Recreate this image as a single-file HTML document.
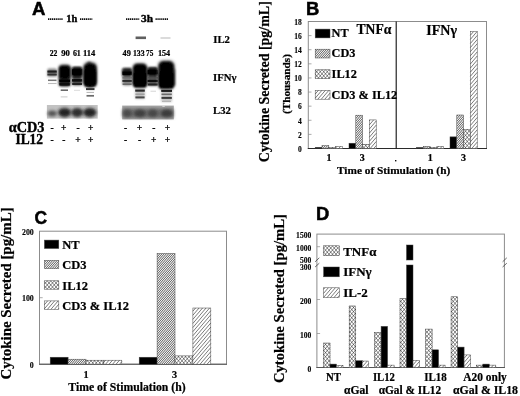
<!DOCTYPE html>
<html><head><meta charset="utf-8"><title>Figure</title>
<style>
html,body{margin:0;padding:0;background:#fff;}
body{width:520px;height:396px;overflow:hidden;font-family:"Liberation Serif",serif;}
svg{display:block;}
.f{font-family:"Liberation Serif",serif;font-weight:bold;fill:#000;stroke:#000;stroke-width:0.22;}
.t{font-family:"Liberation Serif",serif;font-weight:bold;fill:#000;stroke:#000;stroke-width:0.12;}
.g{font-family:"Liberation Sans",sans-serif;font-weight:bold;fill:#000;stroke:#000;stroke-width:0.5;}
</style></head><body>
<svg width="520" height="396" viewBox="0 0 520 396">
<defs>
<pattern id="fine" width="11" height="5" patternUnits="userSpaceOnUse" shape-rendering="crispEdges">
<rect x="0" y="0" width="1" height="1" fill="#bebebe"/><rect x="1" y="0" width="1" height="1" fill="#bebebe"/><rect x="2" y="0" width="1" height="1" fill="#979797"/><rect x="3" y="0" width="1" height="1" fill="#dfdfdf"/><rect x="4" y="0" width="1" height="1" fill="#777777"/><rect x="5" y="0" width="1" height="1" fill="#f3f3f3"/><rect x="6" y="0" width="1" height="1" fill="#6d6d6d"/><rect x="7" y="0" width="1" height="1" fill="#f3f3f3"/><rect x="8" y="0" width="1" height="1" fill="#787878"/><rect x="9" y="0" width="1" height="1" fill="#dedede"/><rect x="10" y="0" width="1" height="1" fill="#989898"/><rect x="0" y="1" width="1" height="1" fill="#d3d3d3"/><rect x="1" y="1" width="1" height="1" fill="#838383"/><rect x="2" y="1" width="1" height="1" fill="#ededed"/><rect x="3" y="1" width="1" height="1" fill="#6e6e6e"/><rect x="4" y="1" width="1" height="1" fill="#f6f6f6"/><rect x="5" y="1" width="1" height="1" fill="#717171"/><rect x="6" y="1" width="1" height="1" fill="#e8e8e8"/><rect x="7" y="1" width="1" height="1" fill="#898989"/><rect x="8" y="1" width="1" height="1" fill="#cccccc"/><rect x="9" y="1" width="1" height="1" fill="#afafaf"/><rect x="10" y="1" width="1" height="1" fill="#a7a7a7"/><rect x="0" y="2" width="1" height="1" fill="#747474"/><rect x="1" y="2" width="1" height="1" fill="#f5f5f5"/><rect x="2" y="2" width="1" height="1" fill="#6d6d6d"/><rect x="3" y="2" width="1" height="1" fill="#f0f0f0"/><rect x="4" y="2" width="1" height="1" fill="#7d7d7d"/><rect x="5" y="2" width="1" height="1" fill="#d9d9d9"/><rect x="6" y="2" width="1" height="1" fill="#9f9f9f"/><rect x="7" y="2" width="1" height="1" fill="#b6b6b6"/><rect x="8" y="2" width="1" height="1" fill="#c6c6c6"/><rect x="9" y="2" width="1" height="1" fill="#909090"/><rect x="10" y="2" width="1" height="1" fill="#e4e4e4"/><rect x="0" y="3" width="1" height="1" fill="#f5f5f5"/><rect x="1" y="3" width="1" height="1" fill="#747474"/><rect x="2" y="3" width="1" height="1" fill="#e4e4e4"/><rect x="3" y="3" width="1" height="1" fill="#919191"/><rect x="4" y="3" width="1" height="1" fill="#c5c5c5"/><rect x="5" y="3" width="1" height="1" fill="#b6b6b6"/><rect x="6" y="3" width="1" height="1" fill="#9f9f9f"/><rect x="7" y="3" width="1" height="1" fill="#d9d9d9"/><rect x="8" y="3" width="1" height="1" fill="#7d7d7d"/><rect x="9" y="3" width="1" height="1" fill="#f0f0f0"/><rect x="10" y="3" width="1" height="1" fill="#6d6d6d"/><rect x="0" y="4" width="1" height="1" fill="#838383"/><rect x="1" y="4" width="1" height="1" fill="#d2d2d2"/><rect x="2" y="4" width="1" height="1" fill="#a7a7a7"/><rect x="3" y="4" width="1" height="1" fill="#aeaeae"/><rect x="4" y="4" width="1" height="1" fill="#cdcdcd"/><rect x="5" y="4" width="1" height="1" fill="#898989"/><rect x="6" y="4" width="1" height="1" fill="#e9e9e9"/><rect x="7" y="4" width="1" height="1" fill="#717171"/><rect x="8" y="4" width="1" height="1" fill="#f6f6f6"/><rect x="9" y="4" width="1" height="1" fill="#6e6e6e"/><rect x="10" y="4" width="1" height="1" fill="#ededed"/>
</pattern>
<pattern id="cross" width="3.5" height="4.1" patternUnits="userSpaceOnUse">
<rect width="3.5" height="4.1" fill="#fff"/>
<path d="M0,0 L3.5,4.1 M3.5,0 L0,4.1" stroke="#000" stroke-width="0.5"/>
</pattern>
<pattern id="wide" width="3.5" height="4.1" patternUnits="userSpaceOnUse">
<rect width="3.5" height="4.1" fill="#fff"/>
<path d="M-1.75,2.05 L1.75,-2.05 M0,4.1 L3.5,0 M1.75,6.15 L5.25,2.05" stroke="#222" stroke-width="0.6"/>
</pattern>
<filter id="b1" x="-50%" y="-50%" width="200%" height="200%"><feGaussianBlur stdDeviation="0.9"/></filter>
<filter id="b2" x="-50%" y="-50%" width="200%" height="200%"><feGaussianBlur stdDeviation="1.4"/></filter>
<filter id="b3" x="-50%" y="-50%" width="200%" height="200%"><feGaussianBlur stdDeviation="0.7"/></filter>
<filter id="gb" x="0" y="0" width="520" height="396" filterUnits="userSpaceOnUse"><feGaussianBlur stdDeviation="0.3"/></filter>
</defs>
<rect width="520" height="396" fill="#fff"/>
<g filter="url(#gb)">
<rect width="520" height="396" fill="#fff"/>

<text class="g" x="32" y="14.7" font-size="18.4" text-anchor="start" textLength="13.4" lengthAdjust="spacingAndGlyphs" >A</text>
<text class="f" x="66.2" y="22" font-size="10.8" text-anchor="start" textLength="11" lengthAdjust="spacingAndGlyphs" style="stroke-width:0.4">1h</text>
<text class="f" x="141" y="22" font-size="10.8" text-anchor="start" textLength="12" lengthAdjust="spacingAndGlyphs" style="stroke-width:0.4">3h</text>
<line x1="48" y1="19.1" x2="62.7" y2="19.1" stroke="#111" stroke-width="1.7" stroke-dasharray="1.3,0.6"/>
<line x1="80" y1="19.1" x2="92.3" y2="19.1" stroke="#111" stroke-width="1.7" stroke-dasharray="1.3,0.6"/>
<line x1="126" y1="19.1" x2="139.5" y2="19.1" stroke="#111" stroke-width="1.7" stroke-dasharray="1.3,0.6"/>
<line x1="155.5" y1="19.1" x2="168" y2="19.1" stroke="#111" stroke-width="1.7" stroke-dasharray="1.3,0.6"/>
<text class="f" x="49.8" y="55.8" font-size="8.2" text-anchor="start" textLength="7.65" lengthAdjust="spacingAndGlyphs" >22</text>
<text class="f" x="61.3" y="55.8" font-size="8.2" text-anchor="start" textLength="8.65" lengthAdjust="spacingAndGlyphs" >90</text>
<text class="f" x="72.89999999999999" y="55.8" font-size="8.2" text-anchor="start" textLength="7.9" lengthAdjust="spacingAndGlyphs" >61</text>
<text class="f" x="82.89999999999999" y="55.8" font-size="8.2" text-anchor="start" textLength="12.3" lengthAdjust="spacingAndGlyphs" >114</text>
<text class="f" x="122.55" y="55.8" font-size="8.2" text-anchor="start" textLength="8.25" lengthAdjust="spacingAndGlyphs" >49</text>
<text class="f" x="132.9" y="55.8" font-size="8.2" text-anchor="start" textLength="11.7" lengthAdjust="spacingAndGlyphs" >133</text>
<text class="f" x="146.05" y="55.8" font-size="8.2" text-anchor="start" textLength="7.25" lengthAdjust="spacingAndGlyphs" >75</text>
<text class="f" x="157.9" y="55.8" font-size="8.2" text-anchor="start" textLength="12.3" lengthAdjust="spacingAndGlyphs" >154</text>
<text class="f" x="213.3" y="42.8" font-size="10.7" text-anchor="start" >IL2</text>
<text class="f" x="213.1" y="81" font-size="10.7" text-anchor="start" >IFN&#947;</text>
<text class="f" x="213.1" y="114" font-size="10.7" text-anchor="start" >L32</text>
<text class="f" x="8.8" y="132" font-size="14.2" text-anchor="start" textLength="35.7" lengthAdjust="spacingAndGlyphs" style="stroke-width:0.4">&#945;CD3</text>
<text class="f" x="15.5" y="143.8" font-size="13.6" text-anchor="start" textLength="27.5" lengthAdjust="spacingAndGlyphs" style="stroke-width:0.4">IL12</text>
<text class="f" x="52" y="131" font-size="9.5" text-anchor="middle" >-</text>
<text class="f" x="52" y="142.6" font-size="9.5" text-anchor="middle" >-</text>
<text class="f" x="63.8" y="131" font-size="9.5" text-anchor="middle" >+</text>
<text class="f" x="63.8" y="142.6" font-size="9.5" text-anchor="middle" >-</text>
<text class="f" x="78" y="131" font-size="9.5" text-anchor="middle" >-</text>
<text class="f" x="78" y="142.6" font-size="9.5" text-anchor="middle" >+</text>
<text class="f" x="90.8" y="131" font-size="9.5" text-anchor="middle" >+</text>
<text class="f" x="90.8" y="142.6" font-size="9.5" text-anchor="middle" >+</text>
<text class="f" x="125.5" y="131" font-size="9.5" text-anchor="middle" >-</text>
<text class="f" x="125.5" y="142.6" font-size="9.5" text-anchor="middle" >-</text>
<text class="f" x="139.5" y="131" font-size="9.5" text-anchor="middle" >+</text>
<text class="f" x="139.5" y="142.6" font-size="9.5" text-anchor="middle" >-</text>
<text class="f" x="153.8" y="131" font-size="9.5" text-anchor="middle" >-</text>
<text class="f" x="153.8" y="142.6" font-size="9.5" text-anchor="middle" >+</text>
<text class="f" x="167.5" y="131" font-size="9.5" text-anchor="middle" >+</text>
<text class="f" x="167.5" y="142.6" font-size="9.5" text-anchor="middle" >+</text>
<rect x="47.4" y="68.6" width="9.399999999999999" height="8.200000000000003" rx="1.5" fill="#666" opacity="0.8" filter="url(#b1)"/>
<rect x="47.4" y="70.5" width="9.399999999999999" height="2.2" fill="#1a1a1a" opacity="1" filter="url(#b3)"/>
<rect x="47.4" y="73.5" width="9.399999999999999" height="2.0" fill="#333" opacity="1" filter="url(#b3)"/>
<rect x="48" y="79.55" width="8.5" height="1.5" fill="#777" opacity="1" filter="url(#b3)"/>
<rect x="48" y="82.95" width="8.5" height="1.1" fill="#bbb" opacity="1" filter="url(#b3)"/>
<rect x="58.6" y="64.6" width="12.199999999999996" height="22.0" rx="4" fill="#555" opacity="0.8" filter="url(#b2)"/>
<rect x="59.2" y="77" width="10.799999999999997" height="9" rx="1.5" fill="#2a2a2a" opacity="1" filter="url(#b1)"/>
<rect x="58.9" y="65.6" width="11.699999999999996" height="13.400000000000006" rx="3.5" fill="#000" opacity="1" filter="url(#b1)"/>
<rect x="59.2" y="79.5" width="10.799999999999997" height="2.8" fill="#000" opacity="1" filter="url(#b3)"/>
<rect x="59.4" y="82.9" width="10.399999999999999" height="2.6" fill="#0a0a0a" opacity="1" filter="url(#b3)"/>
<rect x="60.7" y="89.4" width="7.299999999999997" height="1.6" fill="#6a6a6a" opacity="1" filter="url(#b3)"/>
<rect x="60.7" y="96.4" width="6.799999999999997" height="1.0" fill="#c8c8c8" opacity="1" filter="url(#b3)"/>
<rect x="72" y="67" width="10.200000000000003" height="18.400000000000006" rx="2" fill="#444" opacity="0.9" filter="url(#b1)"/>
<rect x="71.8" y="67" width="10.600000000000009" height="10.400000000000006" rx="2.5" fill="#0a0a0a" opacity="1" filter="url(#b1)"/>
<rect x="72" y="69.25" width="10.200000000000003" height="5.5" fill="#000" opacity="1" filter="url(#b3)"/>
<rect x="72" y="79.2" width="10.200000000000003" height="2.4" fill="#080808" opacity="1" filter="url(#b3)"/>
<rect x="72.2" y="82.80000000000001" width="9.799999999999997" height="2.2" fill="#222" opacity="1" filter="url(#b3)"/>
<rect x="74" y="89.85" width="6" height="0.9" fill="#d8d8d8" opacity="1" filter="url(#b3)"/>
<rect x="83.2" y="62" width="13.799999999999997" height="25.400000000000006" rx="5" fill="#555" opacity="0.8" filter="url(#b2)"/>
<ellipse cx="89.2" cy="64" rx="2" ry="2.6" fill="#444" opacity="1" filter="url(#b1)"/>
<rect x="83.8" y="63.4" width="12.600000000000009" height="23.000000000000007" rx="5" fill="#000" opacity="1" filter="url(#b1)"/>
<rect x="84.5" y="70" width="11.299999999999997" height="16.599999999999994" rx="2" fill="#000" opacity="1" filter="url(#b1)"/>
<rect x="86" y="88.1" width="8.5" height="2.0" fill="#333" opacity="1" filter="url(#b3)"/>
<rect x="86.5" y="91.9" width="7.5" height="1.0" fill="#b4b4b4" opacity="1" filter="url(#b3)"/>
<rect x="86.5" y="94.95" width="7.5" height="1.7" fill="#6a6a6a" opacity="1" filter="url(#b3)"/>
<rect x="122.4" y="68" width="9.400000000000006" height="17.400000000000006" rx="2" fill="#666" opacity="0.8" filter="url(#b1)"/>
<rect x="122.2" y="68.2" width="9.799999999999997" height="8.0" rx="2" fill="#1a1a1a" opacity="1" filter="url(#b1)"/>
<rect x="122.4" y="71.5" width="9.400000000000006" height="3.4" fill="#000" opacity="1" filter="url(#b3)"/>
<rect x="122.4" y="77.25" width="9.400000000000006" height="1.3" fill="#6a6a6a" opacity="1" filter="url(#b3)"/>
<rect x="122.4" y="79.9" width="9.400000000000006" height="2.0" fill="#2a2a2a" opacity="1" filter="url(#b3)"/>
<rect x="122.6" y="83.4" width="9.0" height="1.6" fill="#6a6a6a" opacity="1" filter="url(#b3)"/>
<rect x="132.6" y="63" width="14.800000000000011" height="25" rx="5" fill="#555" opacity="0.8" filter="url(#b2)"/>
<rect x="133.1" y="64" width="13.800000000000011" height="23" rx="4.5" fill="#000" opacity="1" filter="url(#b1)"/>
<rect x="133.6" y="72" width="12.800000000000011" height="15.200000000000003" rx="2" fill="#000" opacity="1" filter="url(#b1)"/>
<rect x="135.2" y="88" width="9.600000000000023" height="11" rx="1" fill="#aaa" opacity="0.7" filter="url(#b1)"/>
<rect x="135.2" y="89.5" width="9.600000000000023" height="2.2" fill="#2a2a2a" opacity="1" filter="url(#b3)"/>
<rect x="135.4" y="93.55" width="9.199999999999989" height="1.3" fill="#999" opacity="1" filter="url(#b3)"/>
<rect x="135.4" y="96.4" width="9.199999999999989" height="2.0" fill="#4a4a4a" opacity="1" filter="url(#b3)"/>
<rect x="147.6" y="67.4" width="10.200000000000017" height="18.599999999999994" rx="2" fill="#444" opacity="0.9" filter="url(#b1)"/>
<rect x="147.4" y="67.4" width="10.599999999999994" height="8.599999999999994" rx="2" fill="#0a0a0a" opacity="1" filter="url(#b1)"/>
<rect x="147.6" y="70.2" width="10.200000000000017" height="4" fill="#000" opacity="1" filter="url(#b3)"/>
<rect x="147.6" y="77.25" width="10.200000000000017" height="1.3" fill="#4a4a4a" opacity="1" filter="url(#b3)"/>
<rect x="147.6" y="79.80000000000001" width="10.200000000000017" height="2.2" fill="#0a0a0a" opacity="1" filter="url(#b3)"/>
<rect x="147.8" y="83.5" width="9.799999999999983" height="2.0" fill="#222" opacity="1" filter="url(#b3)"/>
<rect x="150.5" y="90.75" width="5.5" height="0.9" fill="#d0d0d0" opacity="1" filter="url(#b3)"/>
<rect x="157.8" y="60.5" width="16.799999999999983" height="28.900000000000006" rx="5" fill="#555" opacity="0.8" filter="url(#b2)"/>
<rect x="172" y="68.5" width="3.1999999999999886" height="17.5" rx="1.5" fill="#666" opacity="1" filter="url(#b1)"/>
<rect x="158.8" y="61.6" width="15.0" height="26.6" rx="5" fill="#000" opacity="1" filter="url(#b1)"/>
<rect x="159.4" y="72" width="14.0" height="16.400000000000006" rx="2" fill="#000" opacity="1" filter="url(#b1)"/>
<rect x="161.2" y="89" width="10.800000000000011" height="13" rx="1" fill="#aaa" opacity="0.7" filter="url(#b1)"/>
<rect x="161.2" y="89.7" width="10.800000000000011" height="2.2" fill="#1a1a1a" opacity="1" filter="url(#b3)"/>
<rect x="161.5" y="93.55" width="10.300000000000011" height="1.5" fill="#6a6a6a" opacity="1" filter="url(#b3)"/>
<rect x="161.5" y="96.9" width="10.300000000000011" height="2.0" fill="#3a3a3a" opacity="1" filter="url(#b3)"/>
<rect x="162" y="100.85000000000001" width="9" height="1.1" fill="#b4b4b4" opacity="1" filter="url(#b3)"/>
<rect x="135.6" y="36.5" width="10.400000000000006" height="2.6" fill="#5e5e5e" opacity="1" filter="url(#b3)"/>
<rect x="160.5" y="37.4" width="10.0" height="1.2" fill="#c4c4c4" opacity="1" filter="url(#b3)"/>
<rect x="46.9" y="105" width="50.8" height="13.6" fill="#c2c2c2" filter="url(#b3)"/>
<ellipse cx="52.2" cy="113.6" rx="4.6" ry="3.0" fill="#4a4a4a" opacity="0.9" filter="url(#b2)"/>
<ellipse cx="64.6" cy="112.6" rx="6.6" ry="4.6" fill="#1e1e1e" opacity="0.95" filter="url(#b2)"/>
<ellipse cx="77.2" cy="112.6" rx="6.0" ry="4.6" fill="#262626" opacity="0.95" filter="url(#b2)"/>
<ellipse cx="89.8" cy="112.6" rx="6.6" ry="4.6" fill="#1a1a1a" opacity="0.95" filter="url(#b2)"/>
<rect x="122.2" y="105.6" width="51.6" height="13.8" fill="#a4a4a4" filter="url(#b3)"/>
<rect x="122.6" y="108.5" width="50.8" height="9.5" fill="#6e6e6e" filter="url(#b2)"/>
<ellipse cx="127.3" cy="113.4" rx="4.6" ry="3.8" fill="#444" opacity="0.85" filter="url(#b2)"/>
<ellipse cx="139.9" cy="113.4" rx="6" ry="3.8" fill="#383838" opacity="0.85" filter="url(#b2)"/>
<ellipse cx="152.8" cy="113.4" rx="5" ry="3.8" fill="#404040" opacity="0.85" filter="url(#b2)"/>
<ellipse cx="166.8" cy="113.4" rx="6" ry="3.8" fill="#303030" opacity="0.85" filter="url(#b2)"/>
<ellipse cx="163.6" cy="106" rx="1.6" ry="1.0" fill="#ddd" opacity="0.8" filter="url(#b3)"/>
<text class="g" x="306.0" y="14.7" font-size="18.4" text-anchor="start" >B</text>
<rect x="308.3" y="21.5" width="178.2" height="127.0" fill="none" stroke="#8c8c8c" stroke-width="1"/>
<line x1="307.8" y1="148.5" x2="487.0" y2="148.5" stroke="#2a2a2a" stroke-width="1.1"/>
<line x1="396.2" y1="21.5" x2="396.2" y2="148.5" stroke="#111" stroke-width="1.1"/>
<text class="t" x="301.8" y="151.8" font-size="7.5" text-anchor="end" >0</text>
<line x1="308.3" y1="134.38888888888889" x2="311.5" y2="134.38888888888889" stroke="#888" stroke-width="0.7"/>
<text class="t" x="301.8" y="137.6888888888889" font-size="7.5" text-anchor="end" >2</text>
<line x1="308.3" y1="120.27777777777777" x2="311.5" y2="120.27777777777777" stroke="#888" stroke-width="0.7"/>
<text class="t" x="301.8" y="123.57777777777777" font-size="7.5" text-anchor="end" >4</text>
<line x1="308.3" y1="106.16666666666667" x2="311.5" y2="106.16666666666667" stroke="#888" stroke-width="0.7"/>
<text class="t" x="301.8" y="109.46666666666667" font-size="7.5" text-anchor="end" >6</text>
<line x1="308.3" y1="92.05555555555556" x2="311.5" y2="92.05555555555556" stroke="#888" stroke-width="0.7"/>
<text class="t" x="301.8" y="95.35555555555555" font-size="7.5" text-anchor="end" >8</text>
<line x1="308.3" y1="77.94444444444444" x2="311.5" y2="77.94444444444444" stroke="#888" stroke-width="0.7"/>
<text class="t" x="301.8" y="81.24444444444444" font-size="7.5" text-anchor="end" >10</text>
<line x1="308.3" y1="63.83333333333334" x2="311.5" y2="63.83333333333334" stroke="#888" stroke-width="0.7"/>
<text class="t" x="301.8" y="67.13333333333334" font-size="7.5" text-anchor="end" >12</text>
<line x1="308.3" y1="49.72222222222223" x2="311.5" y2="49.72222222222223" stroke="#888" stroke-width="0.7"/>
<text class="t" x="301.8" y="53.022222222222226" font-size="7.5" text-anchor="end" >14</text>
<line x1="308.3" y1="35.611111111111114" x2="311.5" y2="35.611111111111114" stroke="#888" stroke-width="0.7"/>
<text class="t" x="301.8" y="38.91111111111111" font-size="7.5" text-anchor="end" >16</text>
<line x1="308.3" y1="21.5" x2="311.5" y2="21.5" stroke="#888" stroke-width="0.7"/>
<text class="t" x="301.8" y="24.8" font-size="7.5" text-anchor="end" >18</text>
<rect x="315.20" y="147.30" width="6.80" height="1.20" fill="#000" stroke="#444" stroke-width="0.5"/>
<rect x="322.00" y="145.68" width="6.80" height="2.82" fill="url(#fine)" stroke="#444" stroke-width="0.5"/>
<rect x="328.80" y="147.51" width="6.80" height="0.99" fill="#fff" stroke="#444" stroke-width="0.5"/>
<path d="M328.8,147.83L329.07,147.51M331.73,148.5L332.57,147.51M335.23,148.5L335.6,148.07M328.93,147.51L329.77,148.5M332.43,147.51L333.27,148.5" stroke="#111" stroke-width="0.5" fill="none"/>
<rect x="335.60" y="146.52" width="6.80" height="1.98" fill="#fff" stroke="#444" stroke-width="0.5"/>
<path d="M335.6,148.07L336.92,146.52M338.73,148.5L340.42,146.52M342.23,148.5L342.4,148.3" stroke="#222" stroke-width="0.6" fill="none"/>
<rect x="349.00" y="143.21" width="6.80" height="5.29" fill="#000" stroke="#444" stroke-width="0.5"/>
<rect x="355.80" y="115.20" width="6.80" height="33.30" fill="url(#fine)" stroke="#444" stroke-width="0.5"/>
<rect x="362.60" y="144.27" width="6.80" height="4.23" fill="#fff" stroke="#444" stroke-width="0.5"/>
<path d="M362.6,145.14L363.35,144.27M363.23,148.5L366.85,144.27M366.73,148.5L369.4,145.37M362.6,145.96L364.77,148.5M364.65,144.27L368.27,148.5M368.15,144.27L369.4,145.73" stroke="#111" stroke-width="0.5" fill="none"/>
<rect x="369.40" y="119.92" width="6.80" height="28.58" fill="#fff" stroke="#444" stroke-width="0.5"/>
<path d="M369.4,120.77L370.12,119.92M369.4,124.87L373.62,119.92M369.4,128.97L376.2,121.01M369.4,133.07L376.2,125.11M369.4,137.17L376.2,129.21M369.4,141.27L376.2,133.31M369.4,145.37L376.2,137.41M370.23,148.5L376.2,141.51M373.73,148.5L376.2,145.61" stroke="#222" stroke-width="0.6" fill="none"/>
<rect x="416.50" y="147.44" width="6.80" height="1.06" fill="#000" stroke="#444" stroke-width="0.5"/>
<rect x="423.30" y="146.38" width="6.80" height="2.12" fill="url(#fine)" stroke="#444" stroke-width="0.5"/>
<rect x="430.10" y="147.44" width="6.80" height="1.06" fill="#fff" stroke="#444" stroke-width="0.5"/>
<path d="M430.1,148.07L430.64,147.44M433.23,148.5L434.14,147.44M436.73,148.5L436.9,148.3M430.36,147.44L431.27,148.5M433.86,147.44L434.77,148.5" stroke="#111" stroke-width="0.5" fill="none"/>
<rect x="436.90" y="146.38" width="6.80" height="2.12" fill="#fff" stroke="#444" stroke-width="0.5"/>
<path d="M436.9,148.3L438.54,146.38M440.23,148.5L442.04,146.38" stroke="#222" stroke-width="0.6" fill="none"/>
<rect x="450.00" y="136.86" width="6.80" height="11.64" fill="#000" stroke="#444" stroke-width="0.5"/>
<rect x="456.80" y="114.99" width="6.80" height="33.51" fill="url(#fine)" stroke="#444" stroke-width="0.5"/>
<rect x="463.60" y="129.45" width="6.80" height="19.05" fill="#fff" stroke="#444" stroke-width="0.5"/>
<path d="M463.6,133.43L466.99,129.45M463.6,137.53L470.4,129.56M463.6,141.63L470.4,133.66M463.6,145.73L470.4,137.76M464.73,148.5L470.4,141.86M468.23,148.5L470.4,145.96M463.6,145.37L466.27,148.5M463.6,141.27L469.77,148.5M463.6,137.17L470.4,145.14M463.6,133.07L470.4,141.04M464.01,129.45L470.4,136.94M467.51,129.45L470.4,132.84" stroke="#111" stroke-width="0.5" fill="none"/>
<rect x="470.40" y="31.73" width="6.80" height="116.77" fill="#fff" stroke="#444" stroke-width="0.5"/>
<path d="M470.4,35.26L473.41,31.73M470.4,39.36L476.91,31.73M470.4,43.46L477.2,35.49M470.4,47.56L477.2,39.59M470.4,51.66L477.2,43.69M470.4,55.76L477.2,47.79M470.4,59.86L477.2,51.89M470.4,63.96L477.2,55.99M470.4,68.06L477.2,60.09M470.4,72.16L477.2,64.19M470.4,76.26L477.2,68.29M470.4,80.36L477.2,72.39M470.4,84.46L477.2,76.49M470.4,88.56L477.2,80.59M470.4,92.66L477.2,84.69M470.4,96.76L477.2,88.79M470.4,100.86L477.2,92.89M470.4,104.96L477.2,96.99M470.4,109.06L477.2,101.09M470.4,113.16L477.2,105.19M470.4,117.26L477.2,109.29M470.4,121.36L477.2,113.39M470.4,125.46L477.2,117.49M470.4,129.56L477.2,121.59M470.4,133.66L477.2,125.69M470.4,137.76L477.2,129.79M470.4,141.86L477.2,133.89M470.4,145.96L477.2,137.99M471.73,148.5L477.2,142.09M475.23,148.5L477.2,146.19" stroke="#222" stroke-width="0.6" fill="none"/>
<text class="f" x="329" y="161.3" font-size="10" text-anchor="middle" >1</text>
<text class="f" x="362.3" y="161.3" font-size="10" text-anchor="middle" >3</text>
<text class="f" x="430.3" y="161.3" font-size="10" text-anchor="middle" >1</text>
<text class="f" x="463.6" y="161.3" font-size="10" text-anchor="middle" >3</text>
<rect x="395" y="160" width="1.4" height="1.4" fill="#111"/>
<text class="f" x="337.0" y="174.2" font-size="11.4" text-anchor="start" textLength="113.2" lengthAdjust="spacingAndGlyphs" >Time of Stimulation (h)</text>
<text class="f" transform="translate(269,81.7) rotate(-90)" font-size="14.2" text-anchor="middle" textLength="161" lengthAdjust="spacingAndGlyphs" >Cytokine Secreted [pg/mL]</text>
<text class="f" transform="translate(289.5,84) rotate(-90)" font-size="11.2" text-anchor="middle" textLength="60" lengthAdjust="spacingAndGlyphs" >(Thousands)</text>
<rect x="315.20" y="29.10" width="14.80" height="8.80" fill="#000" stroke="#444" stroke-width="0.5"/>
<text class="f" x="331.6" y="37" font-size="12.3" text-anchor="start" >NT</text>
<rect x="315.20" y="49.20" width="14.80" height="8.80" fill="url(#fine)" stroke="#444" stroke-width="0.5"/>
<text class="f" x="331.6" y="57.4" font-size="12.3" text-anchor="start" >CD3</text>
<rect x="315.20" y="69.80" width="14.80" height="8.80" fill="#fff" stroke="#444" stroke-width="0.5"/>
<path d="M315.2,73.57L318.41,69.8M315.2,77.67L321.91,69.8M317.9,78.6L325.41,69.8M321.4,78.6L328.91,69.8M324.9,78.6L330.0,72.63M328.4,78.6L330.0,76.73M315.2,78.13L315.6,78.6M315.2,74.03L319.1,78.6M315.2,69.93L322.6,78.6M318.59,69.8L326.1,78.6M322.09,69.8L329.6,78.6M325.59,69.8L330.0,74.97M329.09,69.8L330.0,70.87" stroke="#111" stroke-width="0.5" fill="none"/>
<text class="f" x="331.6" y="78.2" font-size="12.3" text-anchor="start" >IL12</text>
<rect x="315.20" y="90.40" width="14.80" height="8.80" fill="#fff" stroke="#444" stroke-width="0.5"/>
<path d="M315.2,94.07L318.33,90.4M315.2,98.17L321.83,90.4M317.82,99.2L325.33,90.4M321.32,99.2L328.83,90.4M324.82,99.2L330.0,93.13M328.32,99.2L330.0,97.23" stroke="#222" stroke-width="0.6" fill="none"/>
<text class="f" x="331.6" y="98.8" font-size="12.3" text-anchor="start" >CD3 &amp; IL12</text>
<text class="f" x="356.5" y="34.4" font-size="14" text-anchor="start" textLength="34.8" lengthAdjust="spacingAndGlyphs" >TNF&#945;</text>
<text class="f" x="426.3" y="35.3" font-size="15" text-anchor="start" textLength="30.7" lengthAdjust="spacingAndGlyphs" >IFN&#947;</text>
<text class="g" x="34.4" y="224.1" font-size="18.4" text-anchor="start" textLength="12.6" lengthAdjust="spacingAndGlyphs" >C</text>
<rect x="39.5" y="231.2" width="187.0" height="133.0" fill="none" stroke="#8c8c8c" stroke-width="1"/>
<line x1="39.0" y1="364.2" x2="227.0" y2="364.2" stroke="#555" stroke-width="1.1"/>
<text class="t" x="33.8" y="367.84999999999997" font-size="7.9" text-anchor="end" >0</text>
<line x1="39.5" y1="297.7" x2="42.7" y2="297.7" stroke="#888" stroke-width="0.7"/>
<text class="t" x="33.8" y="301.34999999999997" font-size="7.9" text-anchor="end" >100</text>
<text class="t" x="33.8" y="234.85" font-size="7.9" text-anchor="end" >200</text>
<rect x="50.20" y="357.22" width="17.90" height="6.98" fill="#000" stroke="#444" stroke-width="0.5"/>
<rect x="68.10" y="359.21" width="17.90" height="4.99" fill="url(#fine)" stroke="#444" stroke-width="0.5"/>
<rect x="86.00" y="360.21" width="17.90" height="3.99" fill="#fff" stroke="#444" stroke-width="0.5"/>
<path d="M86.0,362.56L88.0,360.21M88.1,364.2L91.5,360.21M91.6,364.2L95.0,360.21M95.1,364.2L98.5,360.21M98.6,364.2L102.0,360.21M102.1,364.2L103.9,362.09M86.0,363.14L86.9,364.2M87.0,360.21L90.4,364.2M90.5,360.21L93.9,364.2M94.0,360.21L97.4,364.2M97.5,360.21L100.9,364.2M101.0,360.21L103.9,363.61" stroke="#111" stroke-width="0.5" fill="none"/>
<rect x="103.90" y="360.21" width="17.90" height="3.99" fill="#fff" stroke="#444" stroke-width="0.5"/>
<path d="M103.9,362.09L105.5,360.21M105.6,364.2L109.0,360.21M109.1,364.2L112.5,360.21M112.6,364.2L116.0,360.21M116.1,364.2L119.5,360.21M119.6,364.2L121.8,361.62" stroke="#222" stroke-width="0.6" fill="none"/>
<rect x="139.20" y="357.22" width="17.90" height="6.98" fill="#000" stroke="#444" stroke-width="0.5"/>
<rect x="157.10" y="253.48" width="17.90" height="110.72" fill="url(#fine)" stroke="#444" stroke-width="0.5"/>
<rect x="175.00" y="355.89" width="17.90" height="8.31" fill="#fff" stroke="#444" stroke-width="0.5"/>
<path d="M175.0,356.7L175.69,355.89M175.0,360.8L179.19,355.89M175.6,364.2L182.69,355.89M179.1,364.2L186.19,355.89M182.6,364.2L189.69,355.89M186.1,364.2L192.9,356.23M189.6,364.2L192.9,360.33M175.0,360.8L177.9,364.2M175.0,356.7L181.4,364.2M177.81,355.89L184.9,364.2M181.31,355.89L188.4,364.2M184.81,355.89L191.9,364.2M188.31,355.89L192.9,361.27M191.81,355.89L192.9,357.17" stroke="#111" stroke-width="0.5" fill="none"/>
<rect x="192.90" y="308.01" width="17.90" height="56.19" fill="#fff" stroke="#444" stroke-width="0.5"/>
<path d="M192.9,311.13L195.57,308.01M192.9,315.23L199.07,308.01M192.9,319.33L202.57,308.01M192.9,323.43L206.07,308.01M192.9,327.53L209.57,308.01M192.9,331.63L210.8,310.66M192.9,335.73L210.8,314.76M192.9,339.83L210.8,318.86M192.9,343.93L210.8,322.96M192.9,348.03L210.8,327.06M192.9,352.13L210.8,331.16M192.9,356.23L210.8,335.26M192.9,360.33L210.8,339.36M193.1,364.2L210.8,343.46M196.6,364.2L210.8,347.56M200.1,364.2L210.8,351.66M203.6,364.2L210.8,355.76M207.1,364.2L210.8,359.86M210.6,364.2L210.8,363.96" stroke="#222" stroke-width="0.6" fill="none"/>
<text class="f" x="86" y="378.1" font-size="10.2" text-anchor="middle" >1</text>
<text class="f" x="174.5" y="378.1" font-size="10.2" text-anchor="middle" >3</text>
<text class="f" x="68.3" y="391" font-size="11.9" text-anchor="start" textLength="117.3" lengthAdjust="spacingAndGlyphs" >Time of Stimulation (h)</text>
<text class="f" transform="translate(11.4,293.4) rotate(-90)" font-size="14.9" text-anchor="middle" textLength="172" lengthAdjust="spacingAndGlyphs" >Cytokine Secreted [pg/mL]</text>
<rect x="44.40" y="240.10" width="14.40" height="8.40" fill="#000" stroke="#444" stroke-width="0.5"/>
<text class="f" x="62.3" y="248.5" font-size="12.5" text-anchor="start" >NT</text>
<rect x="44.40" y="260.30" width="14.40" height="8.40" fill="url(#fine)" stroke="#444" stroke-width="0.5"/>
<text class="f" x="62.3" y="269.2" font-size="12.5" text-anchor="start" >CD3</text>
<rect x="44.40" y="280.80" width="14.40" height="8.40" fill="#fff" stroke="#444" stroke-width="0.5"/>
<path d="M44.4,284.19L47.29,280.8M44.4,288.29L50.79,280.8M47.12,289.2L54.29,280.8M50.62,289.2L57.79,280.8M54.12,289.2L58.8,283.72M57.62,289.2L58.8,287.82M44.4,285.71L47.38,289.2M44.4,281.61L50.88,289.2M47.21,280.8L54.38,289.2M50.71,280.8L57.88,289.2M54.21,280.8L58.8,286.18M57.71,280.8L58.8,282.08" stroke="#111" stroke-width="0.5" fill="none"/>
<text class="f" x="62.3" y="290.3" font-size="12.5" text-anchor="start" >IL12</text>
<rect x="44.40" y="300.90" width="14.40" height="8.40" fill="#fff" stroke="#444" stroke-width="0.5"/>
<path d="M44.4,304.69L47.63,300.9M44.4,308.79L51.13,300.9M47.46,309.3L54.63,300.9M50.96,309.3L58.13,300.9M54.46,309.3L58.8,304.22M57.96,309.3L58.8,308.32" stroke="#222" stroke-width="0.6" fill="none"/>
<text class="f" x="62.3" y="309.7" font-size="12.5" text-anchor="start" >CD3 &amp; IL12</text>
<text class="g" x="316.1" y="220.1" font-size="18.4" text-anchor="start" >D</text>
<rect x="316.9" y="234.1" width="187.5" height="133.4" fill="none" stroke="#8c8c8c" stroke-width="1"/>
<line x1="316.4" y1="367.5" x2="504.9" y2="367.5" stroke="#555" stroke-width="1.1"/>
<text class="t" x="311.3" y="371.5" font-size="7.6" text-anchor="end" >0</text>
<line x1="316.9" y1="333.5" x2="320.09999999999997" y2="333.5" stroke="#888" stroke-width="0.7"/>
<text class="t" x="311.3" y="337.5" font-size="7.6" text-anchor="end" >100</text>
<line x1="316.9" y1="299.5" x2="320.09999999999997" y2="299.5" stroke="#888" stroke-width="0.7"/>
<text class="t" x="311.3" y="303.5" font-size="7.6" text-anchor="end" >200</text>
<text class="t" x="311.3" y="269.5" font-size="7.6" text-anchor="end" >300</text>
<text class="t" x="311.3" y="262.8" font-size="7.6" text-anchor="end" >500</text>
<line x1="316.9" y1="246.7" x2="320.09999999999997" y2="246.7" stroke="#888" stroke-width="0.7"/>
<text class="t" x="311.3" y="250.7" font-size="7.6" text-anchor="end" >1000</text>
<text class="t" x="311.3" y="238.1" font-size="7.6" text-anchor="end" >1500</text>
<line x1="315.09999999999997" y1="261.8" x2="319.29999999999995" y2="257.8" stroke="#444" stroke-width="0.8"/>
<line x1="315.09999999999997" y1="267" x2="319.29999999999995" y2="263.2" stroke="#444" stroke-width="0.8"/>
<line x1="502.59999999999997" y1="261.8" x2="506.79999999999995" y2="257.8" stroke="#444" stroke-width="0.8"/>
<line x1="502.59999999999997" y1="267" x2="506.79999999999995" y2="263.2" stroke="#444" stroke-width="0.8"/>
<rect x="323.50" y="343.02" width="6.50" height="24.48" fill="#fff" stroke="#444" stroke-width="0.5"/>
<path d="M323.5,346.74L326.68,343.02M323.5,350.84L330.0,343.23M323.5,354.94L330.0,347.33M323.5,359.04L330.0,351.43M323.5,363.14L330.0,355.53M323.5,367.24L330.0,359.63M326.78,367.5L330.0,363.73M323.5,366.66L324.22,367.5M323.5,362.56L327.72,367.5M323.5,358.46L330.0,366.07M323.5,354.36L330.0,361.97M323.5,350.26L330.0,357.87M323.5,346.16L330.0,353.77M324.32,343.02L330.0,349.67M327.82,343.02L330.0,345.57" stroke="#111" stroke-width="0.5" fill="none"/>
<rect x="330.00" y="364.10" width="6.50" height="3.40" fill="#000" stroke="#444" stroke-width="0.5"/>
<rect x="336.50" y="365.29" width="6.50" height="2.21" fill="#fff" stroke="#444" stroke-width="0.5"/>
<path d="M337.28,367.5L339.17,365.29M340.78,367.5L342.67,365.29" stroke="#222" stroke-width="0.6" fill="none"/>
<rect x="349.20" y="305.96" width="6.50" height="61.54" fill="#fff" stroke="#444" stroke-width="0.5"/>
<path d="M349.2,308.44L351.31,305.96M349.2,312.54L354.81,305.96M349.2,316.64L355.7,309.02M349.2,320.74L355.7,313.12M349.2,324.84L355.7,317.22M349.2,328.94L355.7,321.32M349.2,333.04L355.7,325.42M349.2,337.14L355.7,329.52M349.2,341.24L355.7,333.62M349.2,345.34L355.7,337.72M349.2,349.44L355.7,341.82M349.2,353.54L355.7,345.92M349.2,357.64L355.7,350.02M349.2,361.74L355.7,354.12M349.2,365.84L355.7,358.22M351.28,367.5L355.7,362.32M354.78,367.5L355.7,366.42M349.2,363.96L352.22,367.5M349.2,359.86L355.7,367.48M349.2,355.76L355.7,363.38M349.2,351.66L355.7,359.28M349.2,347.56L355.7,355.18M349.2,343.46L355.7,351.08M349.2,339.36L355.7,346.98M349.2,335.26L355.7,342.88M349.2,331.16L355.7,338.78M349.2,327.06L355.7,334.68M349.2,322.96L355.7,330.58M349.2,318.86L355.7,326.48M349.2,314.76L355.7,322.38M349.2,310.66L355.7,318.28M349.2,306.56L355.7,314.18M352.19,305.96L355.7,310.08M355.69,305.96L355.7,305.98" stroke="#111" stroke-width="0.5" fill="none"/>
<rect x="355.70" y="360.70" width="6.50" height="6.80" fill="#000" stroke="#444" stroke-width="0.5"/>
<rect x="362.20" y="361.04" width="6.50" height="6.46" fill="#fff" stroke="#444" stroke-width="0.5"/>
<path d="M362.2,362.91L363.8,361.04M362.2,367.01L367.3,361.04M365.28,367.5L368.7,363.49" stroke="#222" stroke-width="0.6" fill="none"/>
<rect x="374.60" y="332.48" width="6.50" height="35.02" fill="#fff" stroke="#444" stroke-width="0.5"/>
<path d="M374.6,336.08L377.68,332.48M374.6,340.18L381.1,332.57M374.6,344.28L381.1,336.67M374.6,348.38L381.1,340.77M374.6,352.48L381.1,344.87M374.6,356.58L381.1,348.97M374.6,360.68L381.1,353.07M374.6,364.78L381.1,357.17M375.78,367.5L381.1,361.27M379.28,367.5L381.1,365.37M374.6,365.02L376.72,367.5M374.6,360.92L380.22,367.5M374.6,356.82L381.1,364.43M374.6,352.72L381.1,360.33M374.6,348.62L381.1,356.23M374.6,344.52L381.1,352.13M374.6,340.42L381.1,348.03M374.6,336.32L381.1,343.93M374.82,332.48L381.1,339.83M378.32,332.48L381.1,335.73" stroke="#111" stroke-width="0.5" fill="none"/>
<rect x="381.10" y="326.36" width="6.50" height="41.14" fill="#000" stroke="#444" stroke-width="0.5"/>
<rect x="387.60" y="365.12" width="6.50" height="2.38" fill="#fff" stroke="#444" stroke-width="0.5"/>
<path d="M387.6,365.95L388.31,365.12M389.78,367.5L391.81,365.12M393.28,367.5L394.1,366.54" stroke="#222" stroke-width="0.6" fill="none"/>
<rect x="400.00" y="298.48" width="6.50" height="69.02" fill="#fff" stroke="#444" stroke-width="0.5"/>
<path d="M400.0,302.23L403.2,298.48M400.0,306.33L406.5,298.71M400.0,310.43L406.5,302.81M400.0,314.53L406.5,306.91M400.0,318.63L406.5,311.01M400.0,322.73L406.5,315.11M400.0,326.83L406.5,319.21M400.0,330.93L406.5,323.31M400.0,335.03L406.5,327.41M400.0,339.13L406.5,331.51M400.0,343.23L406.5,335.61M400.0,347.33L406.5,339.71M400.0,351.43L406.5,343.81M400.0,355.53L406.5,347.91M400.0,359.63L406.5,352.01M400.0,363.73L406.5,356.11M400.28,367.5L406.5,360.21M403.78,367.5L406.5,364.31M400.0,366.07L401.22,367.5M400.0,361.97L404.72,367.5M400.0,357.87L406.5,365.49M400.0,353.77L406.5,361.39M400.0,349.67L406.5,357.29M400.0,345.57L406.5,353.19M400.0,341.47L406.5,349.09M400.0,337.37L406.5,344.99M400.0,333.27L406.5,340.89M400.0,329.17L406.5,336.79M400.0,325.07L406.5,332.69M400.0,320.97L406.5,328.59M400.0,316.87L406.5,324.49M400.0,312.77L406.5,320.39M400.0,308.67L406.5,316.29M400.0,304.57L406.5,312.19M400.0,300.47L406.5,308.09M401.8,298.48L406.5,303.99M405.3,298.48L406.5,299.89" stroke="#111" stroke-width="0.5" fill="none"/>
<rect x="406.50" y="265.00" width="6.50" height="102.50" fill="#000" stroke="#444" stroke-width="0.5"/>
<rect x="406.50" y="245.00" width="6.50" height="15.00" fill="#000" stroke="#444" stroke-width="0.5"/>
<rect x="413.00" y="360.36" width="6.50" height="7.14" fill="#fff" stroke="#444" stroke-width="0.5"/>
<path d="M413.0,360.8L413.38,360.36M413.0,364.9L416.88,360.36M414.28,367.5L419.5,361.39M417.78,367.5L419.5,365.49" stroke="#222" stroke-width="0.6" fill="none"/>
<rect x="425.60" y="329.08" width="6.50" height="38.42" fill="#fff" stroke="#444" stroke-width="0.5"/>
<path d="M425.6,329.64L426.08,329.08M425.6,333.74L429.58,329.08M425.6,337.84L432.1,330.23M425.6,341.94L432.1,334.33M425.6,346.04L432.1,338.43M425.6,350.14L432.1,342.53M425.6,354.24L432.1,346.63M425.6,358.34L432.1,350.73M425.6,362.44L432.1,354.83M425.6,366.54L432.1,358.93M428.28,367.5L432.1,363.03M431.78,367.5L432.1,367.13M425.6,367.36L425.72,367.5M425.6,363.26L429.22,367.5M425.6,359.16L432.1,366.77M425.6,355.06L432.1,362.67M425.6,350.96L432.1,358.57M425.6,346.86L432.1,354.47M425.6,342.76L432.1,350.37M425.6,338.66L432.1,346.27M425.6,334.56L432.1,342.17M425.6,330.46L432.1,338.07M427.92,329.08L432.1,333.97M431.42,329.08L432.1,329.87" stroke="#111" stroke-width="0.5" fill="none"/>
<rect x="432.10" y="349.82" width="6.50" height="17.68" fill="#000" stroke="#444" stroke-width="0.5"/>
<rect x="438.60" y="365.12" width="6.50" height="2.38" fill="#fff" stroke="#444" stroke-width="0.5"/>
<path d="M438.78,367.5L440.81,365.12M442.28,367.5L444.31,365.12" stroke="#222" stroke-width="0.6" fill="none"/>
<rect x="451.10" y="296.78" width="6.50" height="70.72" fill="#fff" stroke="#444" stroke-width="0.5"/>
<path d="M451.1,299.77L453.65,296.78M451.1,303.87L457.15,296.78M451.1,307.97L457.6,300.35M451.1,312.07L457.6,304.45M451.1,316.17L457.6,308.55M451.1,320.27L457.6,312.65M451.1,324.37L457.6,316.75M451.1,328.47L457.6,320.85M451.1,332.57L457.6,324.95M451.1,336.67L457.6,329.05M451.1,340.77L457.6,333.15M451.1,344.87L457.6,337.25M451.1,348.97L457.6,341.35M451.1,353.07L457.6,345.45M451.1,357.17L457.6,349.55M451.1,361.27L457.6,353.65M451.1,365.37L457.6,357.75M452.78,367.5L457.6,361.85M456.28,367.5L457.6,365.95M451.1,364.43L453.72,367.5M451.1,360.33L457.22,367.5M451.1,356.23L457.6,363.85M451.1,352.13L457.6,359.75M451.1,348.03L457.6,355.65M451.1,343.93L457.6,351.55M451.1,339.83L457.6,347.45M451.1,335.73L457.6,343.35M451.1,331.63L457.6,339.25M451.1,327.53L457.6,335.15M451.1,323.43L457.6,331.05M451.1,319.33L457.6,326.95M451.1,315.23L457.6,322.85M451.1,311.13L457.6,318.75M451.1,307.03L457.6,314.65M451.1,302.93L457.6,310.55M451.1,298.83L457.6,306.45M452.85,296.78L457.6,302.35M456.35,296.78L457.6,298.25" stroke="#111" stroke-width="0.5" fill="none"/>
<rect x="457.60" y="347.10" width="6.50" height="20.40" fill="#000" stroke="#444" stroke-width="0.5"/>
<rect x="464.10" y="354.92" width="6.50" height="12.58" fill="#fff" stroke="#444" stroke-width="0.5"/>
<path d="M464.1,358.34L467.02,354.92M464.1,362.44L470.52,354.92M464.1,366.54L470.6,358.93M466.78,367.5L470.6,363.03M470.28,367.5L470.6,367.13" stroke="#222" stroke-width="0.6" fill="none"/>
<rect x="476.30" y="365.12" width="6.50" height="2.38" fill="#fff" stroke="#444" stroke-width="0.5"/>
<path d="M477.28,367.5L479.31,365.12M480.78,367.5L482.8,365.13M476.3,365.25L478.22,367.5M479.69,365.12L481.72,367.5" stroke="#111" stroke-width="0.5" fill="none"/>
<rect x="482.80" y="364.10" width="6.50" height="3.40" fill="#000" stroke="#444" stroke-width="0.5"/>
<rect x="489.30" y="365.12" width="6.50" height="2.38" fill="#fff" stroke="#444" stroke-width="0.5"/>
<path d="M489.3,365.72L489.81,365.12M491.28,367.5L493.31,365.12M494.78,367.5L495.8,366.31" stroke="#222" stroke-width="0.6" fill="none"/>
<text class="f" x="325.9" y="380.8" font-size="11.5" text-anchor="start" textLength="14.9" lengthAdjust="spacingAndGlyphs" >NT</text>
<text class="f" x="372.9" y="380.8" font-size="11.5" text-anchor="start" textLength="22" lengthAdjust="spacingAndGlyphs" >IL12</text>
<text class="f" x="424.2" y="380.8" font-size="11.5" text-anchor="start" textLength="22.5" lengthAdjust="spacingAndGlyphs" >IL18</text>
<text class="f" x="463.3" y="380.8" font-size="11.5" text-anchor="start" textLength="43.5" lengthAdjust="spacingAndGlyphs" >A20 only</text>
<text class="f" x="344" y="393.5" font-size="11.5" text-anchor="start" textLength="24.5" lengthAdjust="spacingAndGlyphs" >&#945;Gal</text>
<text class="f" x="378.7" y="393.5" font-size="11.5" text-anchor="start" textLength="62.5" lengthAdjust="spacingAndGlyphs" >&#945;Gal &amp; IL12</text>
<text class="f" x="453" y="393.5" font-size="11.5" text-anchor="start" textLength="65" lengthAdjust="spacingAndGlyphs" >&#945;Gal &amp; IL18</text>
<text class="f" transform="translate(283.6,298.6) rotate(-90)" font-size="14.7" text-anchor="middle" textLength="169" lengthAdjust="spacingAndGlyphs" >Cytokine Secreted [pg/mL]</text>
<rect x="323.60" y="245.80" width="15.70" height="9.80" fill="#fff" stroke="#444" stroke-width="0.5"/>
<path d="M323.6,248.23L325.67,245.8M323.6,252.33L329.17,245.8M324.3,255.6L332.67,245.8M327.8,255.6L336.17,245.8M331.3,255.6L339.3,246.23M334.8,255.6L339.3,250.33M338.3,255.6L339.3,254.43M323.6,251.97L326.7,255.6M323.6,247.87L330.2,255.6M325.33,245.8L333.7,255.6M328.83,245.8L337.2,255.6M332.33,245.8L339.3,253.97M335.83,245.8L339.3,249.87" stroke="#111" stroke-width="0.5" fill="none"/>
<text class="f" x="343.2" y="255.7" font-size="13" text-anchor="start" >TNF&#945;</text>
<rect x="323.60" y="267.00" width="15.70" height="9.80" fill="#000" stroke="#444" stroke-width="0.5"/>
<text class="f" x="343.2" y="276" font-size="13" text-anchor="start" >IFN&#947;</text>
<rect x="323.60" y="287.80" width="15.70" height="9.80" fill="#fff" stroke="#444" stroke-width="0.5"/>
<path d="M323.6,289.23L324.82,287.8M323.6,293.33L328.32,287.8M323.6,297.43L331.82,287.8M326.95,297.6L335.32,287.8M330.45,297.6L338.82,287.8M333.95,297.6L339.3,291.33M337.45,297.6L339.3,295.43" stroke="#222" stroke-width="0.6" fill="none"/>
<text class="f" x="343.2" y="297.4" font-size="13" text-anchor="start" >IL-2</text>
</g></svg></body></html>
